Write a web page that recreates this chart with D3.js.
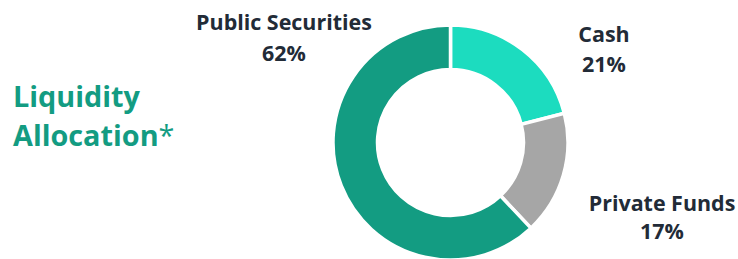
<!DOCTYPE html>
<html><head><meta charset="utf-8">
<script src="https://cdn.jsdelivr.net/npm/d3@7"></script>
<style>html,body{margin:0;padding:0;background:#fff;}</style>
</head><body>
<svg id="c" width="738" height="259"></svg>
<script>
const categories = ["Cash", "Private Funds", "Public Securities"];
const values = [21, 17, 62];
const valueLabels = ["21%", "17%", "62%"];
const colors = ["#1cdcbf", "#a6a6a6", "#139c82"];

const svg = d3.select("#c");
const cx = 450.5, cy = 142.5, rOut = 117.5, rIn = 73;
const font = "'Open Sans', sans-serif";

const pie = d3.pie().sort(null).value(d => d)(values);
const arc = d3.arc().innerRadius(rIn).outerRadius(rOut);

const g = svg.append("g").attr("transform", `translate(${cx},${cy})`);
g.selectAll("path").data(pie).join("path")
  .attr("d", arc)
  .attr("fill", (d, i) => colors[i])
  .attr("stroke", "#fff")
  .attr("stroke-width", 3.5);

// fit font size so that a reference string matches the measured width
function fitSize(str, weight, target) {
  const t = svg.append("text").attr("font-family", font).attr("font-weight", weight)
    .attr("font-size", 20).text(str);
  const w = t.node().getComputedTextLength();
  t.remove();
  return 20 * target / w;
}
const labelSize = fitSize("Public Securities", 700, 176);
const titleSize = fitSize("Liquidity", 700, 127);

const labelPos = [
  {x: 604, y1: 41.5, y2: 71.5},
  {x: 662, y1: 210.5, y2: 239},
  {x: 284, y1: 30, y2: 60.5}
];
const dark = "#222b37";
categories.forEach((c, i) => {
  const p = labelPos[i];
  svg.append("text").attr("x", p.x).attr("y", p.y1)
    .attr("text-anchor", "middle").attr("font-family", font)
    .attr("font-weight", 700).attr("font-size", labelSize).attr("fill", dark).text(c);
  svg.append("text").attr("x", p.x).attr("y", p.y2)
    .attr("text-anchor", "middle").attr("font-family", font)
    .attr("font-weight", 700).attr("font-size", labelSize).attr("fill", dark).text(valueLabels[i]);
});

const tcol = "#139c82";
svg.append("text").attr("x", 13).attr("y", 107.3)
  .attr("font-family", font).attr("font-weight", 700).attr("font-size", titleSize)
  .attr("fill", tcol).text("Liquidity");
const t2 = svg.append("text").attr("x", 13).attr("y", 146)
  .attr("font-family", font).attr("font-weight", 700).attr("font-size", titleSize)
  .attr("fill", tcol);
t2.append("tspan").text("Allocation");
t2.append("tspan").attr("font-weight", 400).text("*");
</script>
</body></html>
